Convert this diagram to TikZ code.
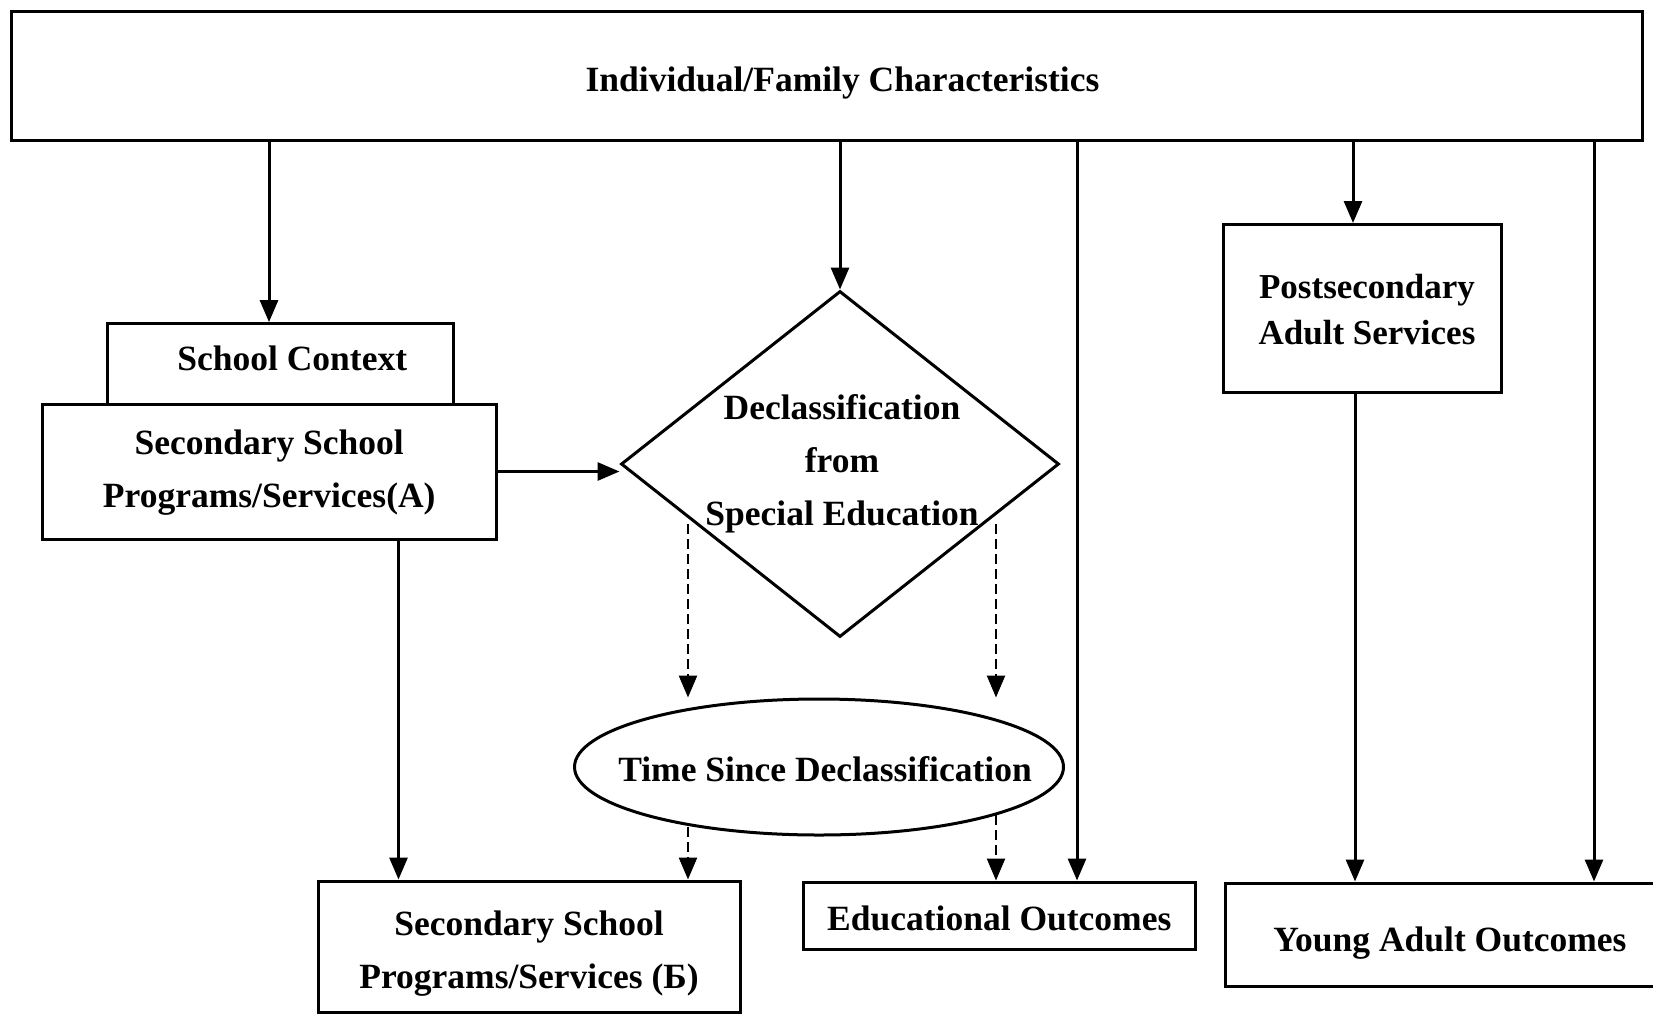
\documentclass[tikz,border=0pt]{standalone}
\usepackage{fontspec}
\setmainfont{Liberation Serif}
\usetikzlibrary{shapes.geometric,arrows.meta}
\newcommand\shtxt[2]{\raisebox{#1}[\height][\depth]{\begin{tabular}{@{}c@{}}#2\end{tabular}}}
\begin{document}
\begin{tikzpicture}[x=1pt,y=-1pt,
  txt/.style={inner sep=0pt,align=center,font=\fontsize{35.5}{53}\bfseries\selectfont},
  box/.style={txt,draw,line width=3pt,rectangle},
  arr/.style={line width=3pt,-{Triangle[length=22pt,width=18pt]}},
  darr/.style={line width=2.6pt,dash pattern=on 10pt off 5pt,-{Triangle[length=22pt,width=18pt]}}]
\useasboundingbox (0,0) rectangle (1653,1015);
\node[box,minimum width=1631pt,minimum height=129pt] (top) at (826.5,75.5) {\shtxt{-5pt}{\hspace*{32pt}Individual/Family Characteristics}};
\node[box,minimum width=345.5pt,minimum height=80.4pt] (sc) at (280.25,363.8) {\shtxt{4pt}{\hspace*{24pt}School Context}};
\node[box,fill=white,minimum width=454.5pt,minimum height=135pt] (A) at (269.25,471.5) {\shtxt{1pt}{Secondary School\\Programs/Services(A)}};
\node[draw,line width=3pt,diamond,inner sep=0pt,minimum width=438pt,minimum height=346pt] (dia) at (840,464) {};
\node[txt] (diat) at (842,464) {Declassification\\from\\Special Education};
\node[draw,line width=3pt,ellipse,inner sep=0pt,minimum width=489pt,minimum height=136pt] (ell) at (819,767) {};
\node[txt] (ellt) at (825,769) {Time Since Declassification};
\node[box,minimum width=422pt,minimum height=131pt] (B) at (529,946.5) {\shtxt{-5pt}{Secondary School\\Programs/Services (Б)}};
\node[box,minimum width=392.5pt,minimum height=67pt] (EO) at (999.25,915.5) {\shtxt{-4pt}{Educational Outcomes}};
\node[box,minimum width=278pt,minimum height=167.5pt,font=\fontsize{35}{46}\bfseries\selectfont] (post) at (1362,308.25) {\shtxt{-4pt}{\hspace*{10pt}Postsecondary\\\hspace*{10pt}Adult Services}};
\node[box,minimum width=450pt,minimum height=103pt] (yao) at (1450,934.5) {\shtxt{-6pt}{Young Adult Outcomes}};
% solid arrows
\draw[arr] (top.south -| 269,0) -- (sc.north -| 269,0);
\draw[arr] (top.south -| dia.north) -- (dia.north);
\draw[arr] (top.south -| 1077,0) -- (EO.north -| 1077,0);
\draw[arr] (top.south -| 1353,0) -- (post.north -| 1353,0);
\draw[arr] (top.south -| 1594,0) -- (yao.north -| 1594,0);
\draw[arr] (A.east) -- (A.east -| dia.west);
\draw[arr] (A.south -| 398.5,0) -- (B.north -| 398.5,0);
\draw[arr] (post.south -| 1355,0) -- (yao.north -| 1355,0);
% dashed arrows
\coordinate (d1) at (688,524);
\coordinate (d2) at (996,524);
\coordinate (e1) at (688,827);
\coordinate (e2) at (996,815);
\draw[darr] (d1) -- (ell.north -| d1);
\draw[darr] (d2) -- (ell.north -| d2);
\draw[darr] (e1) -- (B.north -| e1);
\draw[darr] (e2) -- (EO.north -| e2);
\end{tikzpicture}
\end{document}
